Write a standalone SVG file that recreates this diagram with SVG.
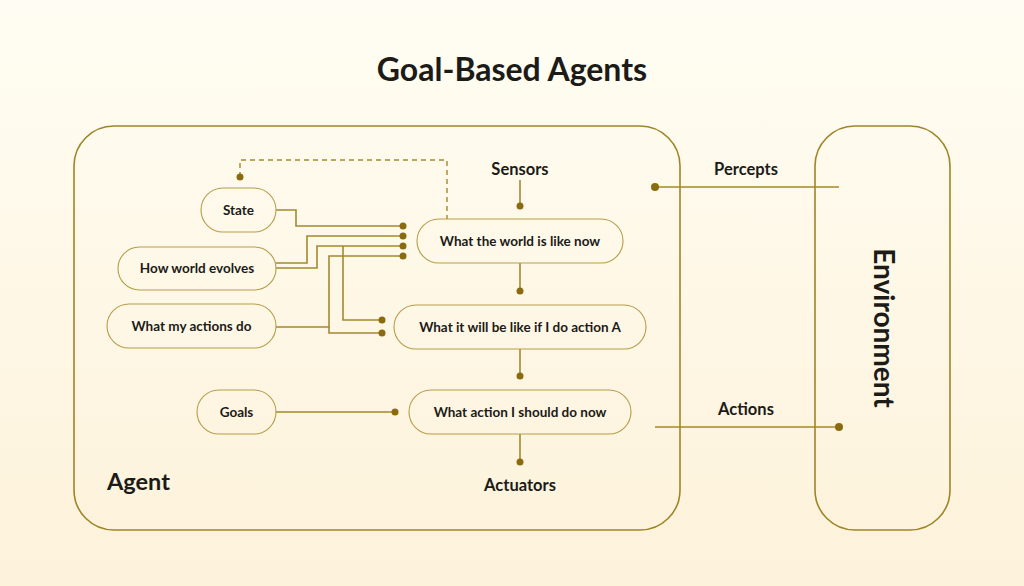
<svg xmlns="http://www.w3.org/2000/svg" width="1024" height="586" viewBox="0 0 1024 586">
<defs>
<linearGradient id="bg" x1="0" y1="0" x2="0" y2="1">
<stop offset="0" stop-color="#fffdf3"/>
<stop offset="1" stop-color="#fdf2da"/>
</linearGradient>
</defs>
<style>
.frame{fill:none;stroke:#9e8527;stroke-width:1.6}
.node{fill:none;stroke:#b59d48;stroke-width:1.1}
.ln{fill:none;stroke:#a3892d;stroke-width:1.6}
.dash{fill:none;stroke:#a3892d;stroke-width:1.4;stroke-dasharray:5 4}
.dot{fill:#8b6b10}
text{font-family:Lato,"Liberation Sans",sans-serif;font-weight:700;fill:#1c1b18}
.lbl{font-size:13.5px;text-anchor:middle}
.hd{font-size:16.5px;text-anchor:middle}
</style>
<rect x="0" y="0" width="1024" height="586" fill="url(#bg)"/>
<text x="512" y="81" font-size="32" text-anchor="middle">Goal-Based Agents</text>

<g id="agent">
<rect class="frame" x="74" y="126" width="606" height="404" rx="40"/>
<text x="107" y="490" font-size="23.5">Agent</text>
</g>
<g id="environment">
<rect class="frame" x="815" y="126" width="135" height="404" rx="40"/>
<text transform="translate(874,328) rotate(90)" font-size="28" text-anchor="middle">Environment</text>
</g>

<g id="connectors">
<path class="dash" d="M240,177 V160 H447 V219"/>
<circle class="dot" cx="240" cy="177" r="3.5"/>
<path class="ln" d="M276,210 H296 V226 H403"/>
<path class="ln" d="M276,263 H307 V236 H403"/>
<path class="ln" d="M276,268 H317 V246 H403"/>
<path class="ln" d="M343,246 V320 H382"/>
<path class="ln" d="M276,327 H329 V256 H403"/>
<path class="ln" d="M329,327 V333 H382"/>
<path class="ln" d="M276,412 H395"/>
<circle class="dot" cx="403" cy="226" r="3.5"/>
<circle class="dot" cx="403" cy="236" r="3.5"/>
<circle class="dot" cx="403" cy="246" r="3.5"/>
<circle class="dot" cx="403" cy="256" r="3.5"/>
<circle class="dot" cx="382" cy="320" r="3.5"/>
<circle class="dot" cx="382" cy="333" r="3.5"/>
<circle class="dot" cx="395" cy="412" r="3.5"/>
<path class="ln" d="M520,180 V206"/>
<circle class="dot" cx="520" cy="206" r="3.5"/>
<path class="ln" d="M520,263 V291"/>
<circle class="dot" cx="520" cy="291" r="3.5"/>
<path class="ln" d="M520,349 V376"/>
<circle class="dot" cx="520" cy="376" r="3.5"/>
<path class="ln" d="M520,434 V462"/>
<circle class="dot" cx="520" cy="462" r="3.5"/>
<path class="ln" d="M655,187 H839"/>
<circle class="dot" cx="655" cy="187" r="4"/>
<path class="ln" d="M655,427 H839"/>
<circle class="dot" cx="839" cy="427" r="4"/>
</g>

<g id="labels">
<text class="hd" x="520" y="175">Sensors</text>
<text class="hd" x="520" y="491">Actuators</text>
<text class="hd" x="746" y="175">Percepts</text>
<text class="hd" x="746" y="415">Actions</text>
</g>

<g id="state"><rect class="node" x="201" y="188" width="75" height="44" rx="22"/><text class="lbl" x="238.5" y="214.5">State</text></g>
<g id="how-world-evolves"><rect class="node" x="118" y="247" width="158" height="43" rx="21.5"/><text class="lbl" x="197" y="273">How world evolves</text></g>
<g id="what-my-actions-do"><rect class="node" x="107" y="304" width="169" height="44" rx="22"/><text class="lbl" x="191.5" y="330.5">What my actions do</text></g>
<g id="goals"><rect class="node" x="197" y="390" width="79" height="44" rx="22"/><text class="lbl" x="236.5" y="416.5">Goals</text></g>
<g id="world-now"><rect class="node" x="417" y="219" width="206" height="44" rx="22"/><text class="lbl" x="520" y="245.5">What the world is like now</text></g>
<g id="will-be"><rect class="node" x="394" y="305" width="252" height="44" rx="22"/><text class="lbl" x="520" y="331.5">What it will be like if I do action A</text></g>
<g id="action-now"><rect class="node" x="409" y="390" width="222" height="44" rx="22"/><text class="lbl" x="520" y="416.5">What action I should do now</text></g>
</svg>
